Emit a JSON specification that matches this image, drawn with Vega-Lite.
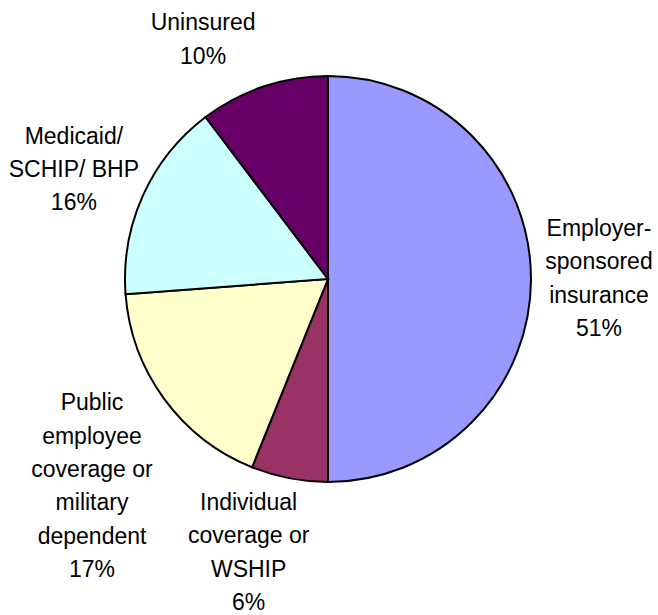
{
  "$schema": "https://vega.github.io/schema/vega-lite/v6.json",
  "width": 656,
  "height": 558,
  "autosize": {"type": "none"},
  "padding": {"left": 0, "top": 0, "right": 2, "bottom": 57},
  "background": "white",
  "view": {"stroke": null},
  "config": {"text": {"font": "Liberation Sans", "fontSize": 23, "lineHeight": 33.3, "lineBreak": "\n", "color": "black", "baseline": "middle", "align": "center"}},
  "data": {"values": [
    {"idx": 1, "cat": "Employer", "share": 50.0, "label": "Employer-\nsponsored\ninsurance\n51%"},
    {"idx": 2, "cat": "Individual", "share": 6.1, "label": "Individual\ncoverage or\nWSHIP\n6%"},
    {"idx": 3, "cat": "Public", "share": 17.7, "label": "Public\nemployee\ncoverage or\nmilitary\ndependent\n17%"},
    {"idx": 4, "cat": "Medicaid", "share": 15.9, "label": "Medicaid/\nSCHIP/ BHP\n16%"},
    {"idx": 5, "cat": "Uninsured", "share": 10.3, "label": "Uninsured\n10%"}
  ]},
  "encoding": {
    "theta": {"field": "share", "type": "quantitative", "stack": true},
    "order": {"field": "idx", "type": "quantitative"}
  },
  "layer": [
    {
      "mark": {"type": "arc", "outerRadius": 203, "stroke": "black", "strokeWidth": 2},
      "encoding": {
        "color": {
          "field": "cat", "type": "nominal", "legend": null,
          "scale": {"domain": ["Employer", "Individual", "Public", "Medicaid", "Uninsured"],
                    "range": ["#9999FF", "#993366", "#FFFFCC", "#CCFFFF", "#660066"]}
        }
      }
    },
    {
      "mark": {"type": "text", "radius": 275, "dx": -4, "dy": -50},
      "encoding": {"text": {"condition": {"test": "datum.cat === 'Employer'", "field": "label"}, "value": ""}}
    },
    {
      "mark": {"type": "text", "radius": 275, "dx": -27, "dy": -46},
      "encoding": {"text": {"condition": {"test": "datum.cat === 'Individual'", "field": "label"}, "value": ""}}
    },
    {
      "mark": {"type": "text", "radius": 275, "dx": -14, "dy": -38},
      "encoding": {"text": {"condition": {"test": "datum.cat === 'Public'", "field": "label"}, "value": ""}}
    },
    {
      "mark": {"type": "text", "radius": 275, "dx": -3.5, "dy": -29},
      "encoding": {"text": {"condition": {"test": "datum.cat === 'Medicaid'", "field": "label"}, "value": ""}}
    },
    {
      "mark": {"type": "text", "radius": 275, "dx": -37.5, "dy": 5},
      "encoding": {"text": {"condition": {"test": "datum.cat === 'Uninsured'", "field": "label"}, "value": ""}}
    }
  ]
}
